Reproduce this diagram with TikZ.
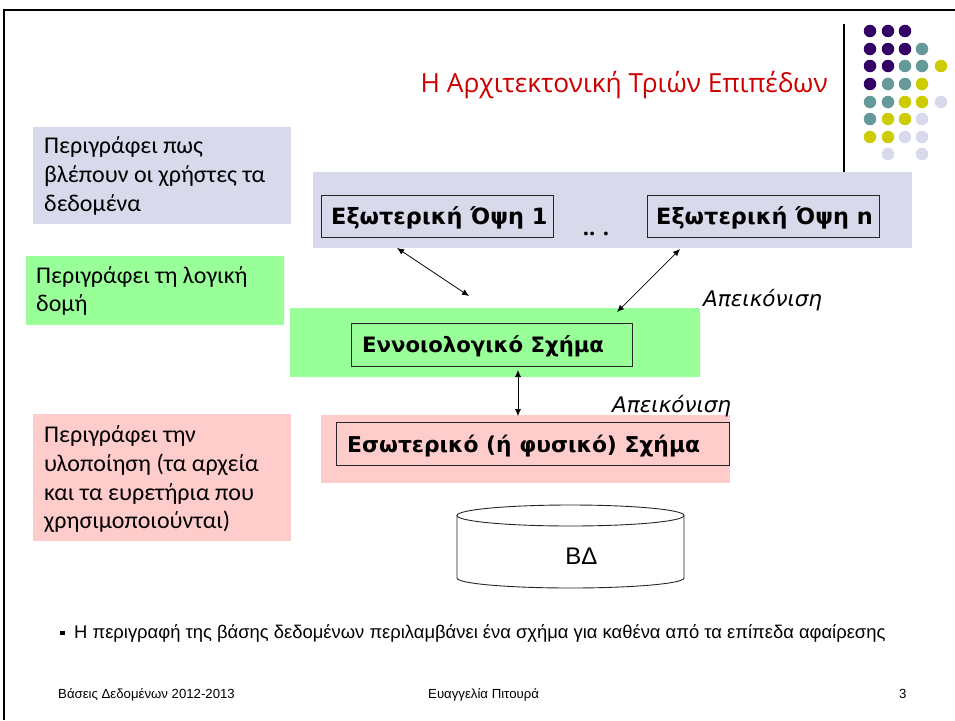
\documentclass[tikz,border=0pt]{standalone}
\usepackage{fontspec}
\usetikzlibrary{arrows.meta}
\setmainfont{Open Sans}
\newfontfamily\arialf{Liberation Sans}
\newfontfamily\widef{DejaVu Sans}
\newfontfamily\notef{Carlito}
\definecolor{purp}{HTML}{330066}
\definecolor{teal2}{HTML}{669999}
\definecolor{yell}{HTML}{CCCC00}
\definecolor{lav}{HTML}{D9D9EC}
\definecolor{grn}{HTML}{99FF99}
\definecolor{pnk}{HTML}{FFCCCC}
\definecolor{ttl}{HTML}{CC0000}
\tikzset{
  band/.style={anchor=north west,inner sep=0pt,outer sep=0pt},
  notetext/.style={anchor=base west,inner sep=0pt,align=left,font=\notef\fontsize{24}{28.7}\selectfont},
  inbox/.style={band,draw=black!85,line width=1pt},
  boxtext/.style={anchor=base west,inner sep=0pt,font=\widef\fontsize{21}{25}\selectfont\bfseries},
  dual/.style={{Latex[length=7pt,width=6pt]}-{Latex[length=7pt,width=6pt]},line width=0.7pt},
  mapl/.style={font=\widef\fontsize{21.5}{25}\selectfont\itshape,anchor=base west,inner sep=0pt},
  dotp/.style={circle,fill=purp,inner sep=0pt,minimum size=12.5pt},
  dott/.style={circle,fill=teal2,inner sep=0pt,minimum size=12.5pt},
  doty/.style={circle,fill=yell,inner sep=0pt,minimum size=12.5pt},
  dotl/.style={circle,fill=lav,inner sep=0pt,minimum size=12.5pt},
  foot/.style={font=\arialf\fontsize{13.2}{16}\selectfont,anchor=base west,inner sep=0pt},
}
\begin{document}
\begin{tikzpicture}[x=1pt,y=-1pt]
\useasboundingbox (0,0) rectangle (955,720);
% frame
\draw[line width=2.6pt] (4,720) -- (4,10) -- (955,10);
\draw[line width=2pt] (844,24) -- (844,172);
% dots
\foreach \x/\y/\s in {870/31/dotp,888/31/dotp,905/31/dotp,
 870/49/dotp,888/49/dotp,905/49/dotp,922/49/dott,
 870/66/dotp,888/66/dotp,905/66/dott,922/66/dott,941/66/doty,
 870/84/dotp,888/84/dott,905/84/dott,922/84/doty,
 870/102/dott,888/102/dott,905/102/doty,922/102/doty,941/102/dotl,
 870/119/dott,888/119/doty,905/119/doty,922/119/dotl,
 870/137/doty,888/137/doty,905/137/dotl,922/137/dotl,
 888/154/dotl,922/154/dotl}
  \node[\s] at (\x,\y) {};
% title
\node[anchor=base east,inner sep=0pt,text=ttl,font=\fontsize{26.3}{30}\selectfont] (title) at (828,92) {Η Αρχιτεκτονική Τριών Επιπέδων};
% left notes
\node[band,fill=lav,minimum width=258pt,minimum height=97pt] (n1) at (33,127) {};
\node[band,fill=grn,minimum width=258pt,minimum height=69pt] (n2) at (26,256) {};
\node[band,fill=pnk,minimum width=258pt,minimum height=127pt] (n3) at (33,414) {};
\node[notetext] (n1a) at (44,153) {Περιγράφει πως};
\node[notetext] (n1b) at (44,182) {βλέπουν οι χρήστες τα};
\node[notetext] (n1c) at (44,211) {δεδομένα};
\node[notetext] (n2a) at (36,283) {Περιγράφει τη λογική};
\node[notetext] (n2b) at (36,311) {δομή};
\node[notetext] (n3a) at (44,442) {Περιγράφει την};
\node[notetext] (n3b) at (44,471) {υλοποίηση (τα αρχεία};
\node[notetext] (n3c) at (44,500) {και τα ευρετήρια που};
\node[notetext] (n3d) at (44,528) {χρησιμοποιούνται)};
% bands
\node[band,fill=lav,minimum width=599pt,minimum height=76pt] (b1) at (313,172) {};
\node[band,fill=grn,minimum width=410pt,minimum height=69pt] (b2) at (290,308) {};
\node[band,fill=pnk,minimum width=409pt,minimum height=68pt] (b3) at (321,415) {};
% inner boxes
\node[inbox,minimum width=232pt,minimum height=42pt] (e1) at (321,195) {};
\node[boxtext,font=\widef\fontsize{22.4}{25}\selectfont\bfseries] (e1t) at (331,224) {Εξωτερική Όψη 1};
\node[inbox,minimum width=232pt,minimum height=42pt] (en) at (647,195) {};
\node[boxtext,font=\widef\fontsize{22.4}{25}\selectfont\bfseries] (ent) at (656,224) {Εξωτερική Όψη n};
\node[anchor=base,inner sep=0pt,font=\fontsize{22}{25}\selectfont\bfseries] (dd) at (596,235) {.. .};
\node[inbox,minimum width=281pt,minimum height=43pt] (c) at (351,323) {};
\node[boxtext,font=\widef\fontsize{21.2}{25}\selectfont\bfseries] (ct) at (362,352) {Εννοιολογικό Σχήμα};
\node[inbox,minimum width=393pt,minimum height=43pt] (i) at (336,422) {};
\node[boxtext,font=\widef\fontsize{21.8}{25}\selectfont\bfseries] (it) at (347,452) {Εσωτερικό (ή φυσικό) Σχήμα};
% labels
\node[mapl] (m1) at (703,306) {Απεικόνιση};
\node[mapl] (m2) at (612,412) {Απεικόνιση};
% connectors
\coordinate (a1) at (397,248);
\coordinate (a2) at (469,296);
\coordinate (a3) at (680,249);
\coordinate (a4) at (617,312);
\coordinate (a5) at (518,370);
\coordinate (a6) at (518,416);
\draw[dual] (a1) -- (a2);
\draw[dual] (a3) -- (a4);
\draw[dual] (a5) -- (a6);
% cylinder
\draw[line width=0.9pt,draw=black!85] (457,515.5) -- (457,578) arc[start angle=180,end angle=0,x radius=113.5,y radius=10] -- (684,515.5);
\draw[line width=0.9pt,draw=black!85] (570.5,515.5) ellipse[x radius=113.5,y radius=10.5];
\node[anchor=base,inner sep=0pt,font=\arialf\fontsize{24}{28}\selectfont] (bd) at (581.5,564) {ΒΔ};
% bullet
\node[fill=black,inner sep=0pt,minimum size=4.5pt] (bul) at (62.5,633) {};
\node[anchor=base west,inner sep=0pt,font=\arialf\fontsize{18.4}{22}\selectfont] (bt) at (74,638) {Η περιγραφή της βάσης δεδομένων περιλαμβάνει ένα σχήμα για καθένα από τα επίπεδα αφαίρεσης};
% footer
\node[foot] (f1) at (58,698) {Βάσεις Δεδομένων 2012-2013};
\node[foot] (f2) at (428,698) {Ευαγγελία Πιτουρά};
\node[foot] (f3) at (899,698) {3};
\end{tikzpicture}
\end{document}
